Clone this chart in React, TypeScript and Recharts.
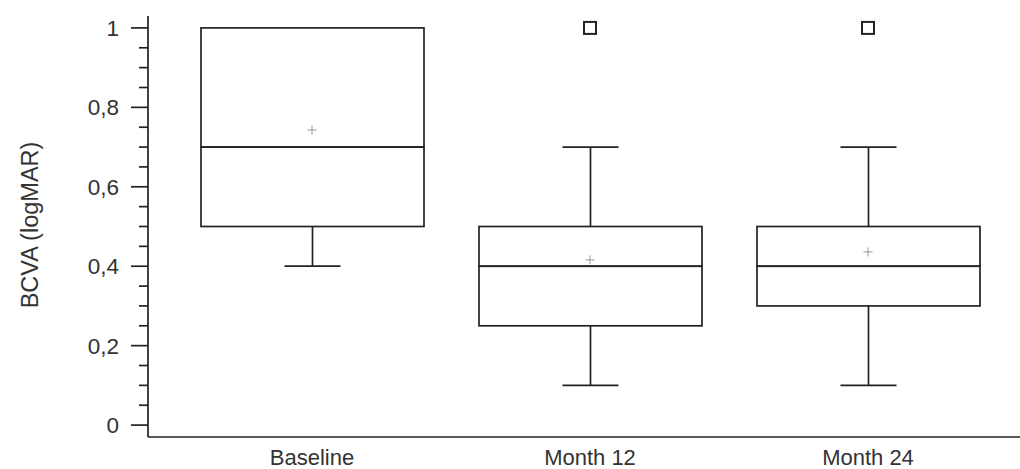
import { ComposedChart, Bar, Scatter, XAxis, YAxis, Label } from 'recharts';

const categories = ['Baseline', 'Month 12', 'Month 24'];
const whiskerLow = [0.4, 0.1, 0.1];
const q1 = [0.5, 0.25, 0.3];
const median = [0.7, 0.4, 0.4];
const q3 = [1.0, 0.5, 0.5];
const whiskerHigh = [1.0, 0.7, 0.7];
const means = [0.743, 0.416, 0.436];
const outliers: (number | null)[] = [null, 1.0, 1.0];

const majorTicks = [0, 0.2, 0.4, 0.6, 0.8, 1];
const minorTicks = [0.05, 0.1, 0.15, 0.25, 0.3, 0.35, 0.45, 0.5, 0.55, 0.65, 0.7, 0.75, 0.85, 0.9, 0.95];

const INK = '#222';
const FONT = '"Liberation Sans", Arial, sans-serif';
const CAP = 28; // half width of whisker caps

// stacked segments: invisible base, lower whisker, lower box, upper box, upper whisker
const data = categories.map((name, i) => ({
  name,
  base: whiskerLow[i],
  lowW: q1[i] - whiskerLow[i],
  boxLo: median[i] - q1[i],
  boxHi: q3[i] - median[i],
  highW: whiskerHigh[i] - q3[i],
  mean: means[i],
  outlier: outliers[i],
}));

const fmt = (v: number) => String(v).replace('.', ',');

function LowWhisker(p: any) {
  if (!p.height) return null;
  const cx = p.x + p.width / 2;
  const yb = p.y + p.height;
  return (
    <g stroke={INK} strokeWidth={1.7}>
      <line x1={cx} x2={cx} y1={p.y} y2={yb} />
      <line x1={cx - CAP} x2={cx + CAP} y1={yb} y2={yb} />
    </g>
  );
}

function HighWhisker(p: any) {
  if (!p.height) return null;
  const cx = p.x + p.width / 2;
  return (
    <g stroke={INK} strokeWidth={1.7}>
      <line x1={cx} x2={cx} y1={p.y} y2={p.y + p.height} />
      <line x1={cx - CAP} x2={cx + CAP} y1={p.y} y2={p.y} />
    </g>
  );
}

function BoxPart(p: any) {
  if (!p.height) return null;
  return <rect x={p.x} y={p.y} width={p.width} height={p.height} fill="none" stroke={INK} strokeWidth={1.7} />;
}

function MeanMark(p: any) {
  const { cx, cy } = p;
  return (
    <g stroke="#999" strokeWidth={1}>
      <line x1={cx - 4.5} x2={cx + 4.5} y1={cy} y2={cy} />
      <line x1={cx} x2={cx} y1={cy - 4.5} y2={cy + 4.5} />
    </g>
  );
}

function OutlierMark(p: any) {
  if (p.payload?.outlier == null) return null;
  const { cx, cy } = p;
  return <rect x={cx - 6} y={cy - 6} width={12} height={12} fill="none" stroke={INK} strokeWidth={2} />;
}

function YTick(p: any) {
  const v = p.payload.value;
  const major = majorTicks.includes(v);
  return (
    <g>
      <line x1={p.x - (major ? 17 : 9)} x2={p.x} y1={p.y} y2={p.y} stroke={INK} strokeWidth={1.7} />
      {major && (
        <text x={p.x - 29} y={p.y} dy="0.36em" textAnchor="end" fill="#333" fontSize={22.5} fontFamily={FONT}>
          {fmt(v)}
        </text>
      )}
    </g>
  );
}

export default function App() {
  return (
    <div style={{ background: '#fff', width: 1020, height: 469 }}>
      <style>{'body{margin:0}'}</style>
      <ComposedChart width={1020} height={469} data={data} margin={{ top: 16, right: 0, left: 0, bottom: 0 }} barSize={223}>
        <XAxis
          dataKey="name"
          height={32}
          padding={{ left: 25, right: 13 }}
          tickLine={false}
          tickSize={0}
          tickMargin={12}
          axisLine={{ stroke: INK, strokeWidth: 1.7 }}
          tick={{ fill: '#333', fontSize: 22, fontFamily: FONT }}
        />
        <YAxis
          type="number"
          width={148}
          domain={[-0.03, 1.03]}
          allowDataOverflow
          ticks={[...majorTicks, ...minorTicks].sort((a, b) => a - b)}
          interval={0}
          tickLine={false}
          tickSize={0}
          tickMargin={0}
          axisLine={{ stroke: INK, strokeWidth: 1.7 }}
          tick={<YTick />}
        >
          <Label
            content={({ viewBox }: any) => {
              const x = viewBox.x + 37.5;
              const y = viewBox.y + viewBox.height / 2 - 1.5;
              return (
                <text x={x} y={y} transform={`rotate(-90, ${x}, ${y})`} textAnchor="middle" fill="#333" fontSize={23.5} fontFamily={FONT}>
                  BCVA (logMAR)
                </text>
              );
            }}
          />
        </YAxis>
        <Bar dataKey="base" stackId="box" fill="none" isAnimationActive={false} shape={() => null} />
        <Bar dataKey="lowW" stackId="box" isAnimationActive={false} shape={LowWhisker} />
        <Bar dataKey="boxLo" stackId="box" isAnimationActive={false} shape={BoxPart} />
        <Bar dataKey="boxHi" stackId="box" isAnimationActive={false} shape={BoxPart} />
        <Bar dataKey="highW" stackId="box" isAnimationActive={false} shape={HighWhisker} />
        <Scatter dataKey="mean" isAnimationActive={false} shape={MeanMark} />
        <Scatter dataKey="outlier" isAnimationActive={false} shape={OutlierMark} />
      </ComposedChart>
    </div>
  );
}
